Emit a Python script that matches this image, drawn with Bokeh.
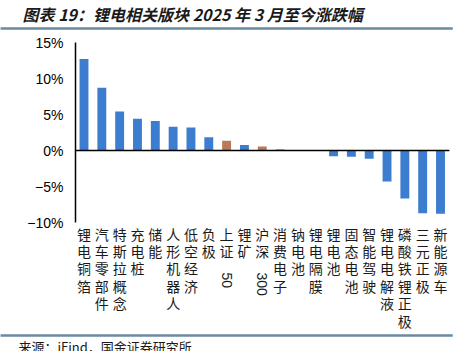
import re
import numpy as np
from bokeh.plotting import figure
from bokeh.models import Range1d, FixedTicker, ColumnDataSource
from bokeh.embed import file_html
from bokeh.resources import INLINE
from bokeh.core.properties import value

# ---------------- data ----------------
title_text = "图表 19：锂电相关版块 2025 年 3 月至今涨跌幅"
source_text = "来源：iFind，国金证券研究所"
categories = ["锂电铜箔", "汽车零部件", "特斯拉概念", "充电桩", "储能", "人形机器人",
              "低空经济", "负极", "上证50", "锂矿", "沪深300", "消费电子", "钠电池",
              "锂电隔膜", "锂电池", "固态电池", "智能驾驶", "锂电电解液", "磷酸铁锂正极",
              "三元正极", "新能源车"]
changes = [12.7, 8.7, 5.4, 4.4, 4.1, 3.3, 3.2, 1.85, 1.35, 0.75, 0.55, 0.15, -0.06,
           -0.06, -0.8, -0.87, -1.15, -4.3, -6.65, -8.7, -8.8]
benchmarks = ["上证50", "沪深300"]
y_ticks = [-10, -5, 0, 5, 10, 15]
tick_labels = ["−10%", "−5%", "0%", "5%", "10%", "15%"]

# ---------------- styling / layout constants ----------------
BLUE = "#3d7dd0"
BROWN = "#b87a5a"
RULE = "#6a8aa2"
CJK = "Noto Sans CJK SC"
W, H = 476, 351
PX = 7.2            # pixels per percentage point
STEP = 17.825       # pixels per category
X0_PX = 83.5        # pixel centre of first category
Y15_PX = 42         # pixel row of the 15% gridline


def dx(px):
    return (px - X0_PX) / STEP


def dy(py):
    return max(y_ticks) - (py - Y15_PX) / PX


p = figure(width=W, height=H, x_range=Range1d(dx(0), dx(W)),
           y_range=Range1d(dy(H), dy(0)), output_backend="svg",
           toolbar_location=None, x_axis_location=None,
           min_border=0, outline_line_color=None)
p.grid.visible = False

# header / footer rules (drawn as thin filled bands)
rule_rows = [28, 335]
p.quad(left=[dx(0)] * 2, right=[dx(452)] * 2,
       top=[dy(r - 1) for r in rule_rows], bottom=[dy(r + 1) for r in rule_rows],
       fill_color=RULE, line_color=RULE, line_width=0.5)

p.text(x=[dx(22)], y=[dy(13)], text=[title_text], text_font=value(CJK),
       text_font_size=value("16px"), text_font_style="bold italic",
       text_baseline="middle", text_align="left", text_color="#1a1a1a")
p.text(x=[dx(18)], y=[dy(346)], text=[source_text], text_font=value(CJK),
       text_font_size=value("13px"), text_baseline="middle", text_align="left",
       text_color="#1a1a1a")

# bars
idx = np.arange(len(categories))
colors = [BROWN if c in benchmarks else BLUE for c in categories]
src = ColumnDataSource(dict(x=idx, top=changes, color=colors))
p.vbar(x="x", top="top", bottom=0, width=0.5, fill_color="color",
       line_color=None, source=src)

# zero line
p.segment(x0=[dx(75)], y0=[0], x1=[len(categories) - 0.5], y1=[0],
          line_color="black", line_width=1.5)

# y axis drawn inside the frame
ax = p.yaxis[0]
ax.fixed_location = dx(75)
ax.bounds = (min(y_ticks), max(y_ticks))
ax.ticker = FixedTicker(ticks=y_ticks)
ax.major_label_overrides = {t: l for t, l in zip(y_ticks, tick_labels)}
ax.axis_line_color = "black"
ax.axis_line_width = 1.5
ax.major_tick_line_color = None
ax.minor_tick_line_color = None
ax.major_tick_in = 0
ax.major_tick_out = 0
ax.major_label_standoff = 12
ax.major_label_text_font = "Liberation Sans"
ax.major_label_text_font_size = "14px"
ax.major_label_text_color = "black"

# vertical category labels
cx, cy, ct = [], [], []
rx, ry, rt = [], [], []
for i, cat in enumerate(categories):
    m = re.match(r"^(.*?)(\d+)$", cat)
    han = m.group(1) if m else cat
    digits = m.group(2) if m else ""
    for k, ch in enumerate(han):
        cx.append(i)
        cy.append(dy(233 + 17.4 * k))
        ct.append(ch)
    if digits:
        rx.append(i)
        ry.append(dy(272))
        rt.append(digits)

p.text(x=cx, y=cy, text=ct, text_font=value(CJK), text_font_size=value("14px"),
       text_align="center", text_baseline="middle", text_color="#1a1a1a")
p.text(x=rx, y=ry, text=rt, text_font=value("Liberation Sans"),
       text_font_size=value("14px"), text_align="left", text_baseline="middle",
       angle=-np.pi / 2, text_color="#1a1a1a")

open("out.html", "w").write(file_html(p, INLINE))
